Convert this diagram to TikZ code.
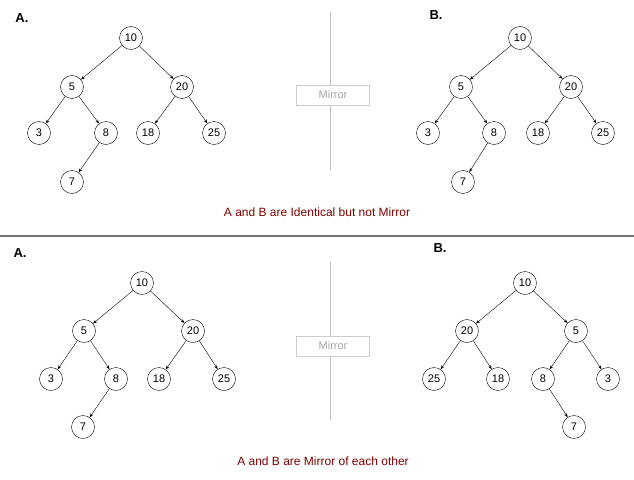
\documentclass[tikz,border=0pt]{standalone}
\usepackage{fontspec}
\setmainfont{Liberation Sans}
\usetikzlibrary{arrows.meta}
\begin{document}
\begin{tikzpicture}[x=1pt,y=-1pt,
  nd/.style={circle,draw,thin,minimum size=23pt,inner sep=0pt,font=\fontsize{11}{12}\selectfont},
  ar/.style={-{Stealth[length=4pt,width=3pt]},thin},
  lbl/.style={font=\bfseries\fontsize{13}{14}\selectfont},
  mir/.style={draw=black!20,text=black!35,minimum width=73pt,minimum height=20pt,inner sep=0pt,font=\fontsize{11}{12}\selectfont},
  captxt/.style={text={rgb,255:red,128;green,0;blue,0},font=\fontsize{12}{13}\selectfont}]
\useasboundingbox (0,0) rectangle (634,479);
% top A
\node[lbl] (tA) at (22,18) {A.};
\node[lbl] (tB) at (436,15) {B.};
\foreach \p/\x/\y/\t in {a/131/38/10,b/72/87/5,c/182/87/20,d/39/133/3,e/106/133/8,f/148/133/18,g/214/133/25,h/72/182/7}
  \node[nd] (A1\p) at (\x,\y) {\t};
\foreach \p/\x/\y/\t in {a/520/38/10,b/461/87/5,c/571/87/20,d/428/133/3,e/494/133/8,f/538/133/18,g/603/133/25,h/463/182/7}
  \node[nd] (B1\p) at (\x,\y) {\t};
\foreach \t in {A1,B1}{
  \draw[ar] (\t a) -- (\t b); \draw[ar] (\t a) -- (\t c);
  \draw[ar] (\t b) -- (\t d); \draw[ar] (\t b) -- (\t e);
  \draw[ar] (\t c) -- (\t f); \draw[ar] (\t c) -- (\t g);
  \draw[ar] (\t e) -- (\t h);}
\coordinate (v1) at (330,12); \coordinate (v2) at (330,170);
\draw[black!25] (v1) -- (v2);
\node[mir,fill=white] (m1) at (333,95) {Mirror};
\node[captxt] (c1) at (317,212) {A and B are Identical but not Mirror};
\coordinate (h1) at (0,236); \coordinate (h2) at (634,236);
\draw[black!55,line width=1.5pt] (h1) -- (h2);
% bottom
\node[lbl] (bA) at (20,253) {A.};
\node[lbl] (bB) at (440,248) {B.};
\foreach \p/\x/\y/\t in {a/142/283/10,b/84/331/5,c/193/331/20,d/51/379/3,e/116/379/8,f/159/379/18,g/224/379/25,h/83/427/7}
  \node[nd] (A2\p) at (\x,\y) {\t};
\foreach \p/\x/\y/\t in {a/525/283/10,b/576/331/5,c/467/331/20,d/608/379/3,e/543/379/8,f/498/379/18,g/434/379/25,h/574/427/7}
  \node[nd] (B2\p) at (\x,\y) {\t};
\foreach \t in {A2,B2}{
  \draw[ar] (\t a) -- (\t b); \draw[ar] (\t a) -- (\t c);
  \draw[ar] (\t b) -- (\t d); \draw[ar] (\t b) -- (\t e);
  \draw[ar] (\t c) -- (\t f); \draw[ar] (\t c) -- (\t g);
  \draw[ar] (\t e) -- (\t h);}
\coordinate (v3) at (330,262); \coordinate (v4) at (330,420);
\draw[black!25] (v3) -- (v4);
\node[mir,fill=white] (m2) at (333,346) {Mirror};
\node[captxt] (c2) at (323,461) {A and B are Mirror of each other};
\end{tikzpicture}
\end{document}
